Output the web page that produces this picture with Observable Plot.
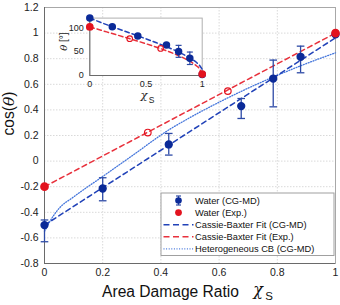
<!DOCTYPE html>
<html>
<head>
<meta charset="utf-8">
<script src="https://cdn.jsdelivr.net/npm/d3@7"></script>
<script src="https://cdn.jsdelivr.net/npm/@observablehq/plot@0.6"></script>
<style>
  html, body { margin: 0; padding: 0; background: #fff; }
  #wrap { position: relative; width: 340px; height: 305px; overflow: hidden; font-family: "Liberation Sans", Arial, sans-serif; }
  #wrap > svg, #wrap > div { position: absolute; }
</style>
</head>
<body>
<div id="wrap"></div>
<script>
// ---------- data ----------
const xTicks = [0, 0.2, 0.4, 0.6, 0.8, 1];
const xTickLabels = ["0", "0.2", "0.4", "0.6", "0.8", "1"];
const yTicks = [-0.8, -0.6, -0.4, -0.2, 0, 0.2, 0.4, 0.6, 0.8, 1, 1.2];
const yTickLabels = ["-0.8", "-0.6", "-0.4", "-0.2", "0", "0.2", "0.4", "0.6", "0.8", "1", "1.2"];

// Water (CG-MD) cos(theta) with error bars
const mdX   = [0, 0.2, 0.427, 0.676, 0.786, 0.88, 1];
const mdCos = [-0.5, -0.214, 0.13, 0.43, 0.645, 0.815, 0.99];
const mdLo  = [-0.63, -0.31, 0.047, 0.333, 0.424, 0.69, null];
const mdHi  = [-0.46, -0.13, 0.216, 0.489, 0.789, 0.898, null];

// Water (Exp.) filled and open points
const expX = [0, 1];
const expCos = [-0.2, 1.0];
const expOpenX = [0.355, 0.63];
const expOpenCos = [0.223, 0.547];

// Cassie-Baxter fits
const cbMdX = [0, 1];
const cbMdCos = [-0.5, 0.963];
const cbExpX = [0, 1];
const cbExpCos = [-0.2, 1.0];

// Heterogeneous CB (CG-MD)
const hetX   = [0, 0.02, 0.05, 0.1, 0.2, 0.3, 0.43, 0.5, 0.6, 0.7, 0.8, 0.9, 1];
const hetCos = [-0.55, -0.465, -0.37, -0.28, -0.12, 0.04, 0.248, 0.34, 0.46, 0.57, 0.67, 0.762, 0.846];

// Inset: contact angle theta (deg)
const inXTicks = [0, 0.5, 1];
const inXTickLabels = ["0", "0.5", "1"];
const inYTicks = [0, 50, 100];
const inMdX = [0, 0.2, 0.427, 0.682, 0.79, 0.89, 1];
const inMdTheta = [120, 102, 82.5, 64, 50, 36, 2];
const inErrX = [0.79, 0.89];
const inErrLo = [38, 23];
const inErrHi = [63, 49];
const inExpX = [0, 1];
const inExpTheta = [101.5, 3];
const inExpOpenX = [0.355, 0.63];
const inExpOpenTheta = [77, 56.5];
const inFitX = [0, 0.1, 0.2, 0.3, 0.4, 0.5, 0.6, 0.7, 0.8, 0.85, 0.9, 0.95, 0.98, 1];
const inFitMdTheta  = [120, 110.7, 102, 93.5, 85.1, 76.6, 67.8, 58.4, 47.9, 41.9, 35.2, 27.1, 20, 13];
const inFitExpTheta = [101.5, 94.6, 87.7, 80.8, 73.7, 66.4, 58.7, 50.2, 40.5, 34.9, 28.4, 19.9, 12.6, 0];

// legend
const legendLabels = ["Water (CG-MD)", "Water (Exp.)", "Cassie-Baxter Fit (CG-MD)", "Cassie-Baxter Fit (Exp.)", "Heterogeneous CB (CG-MD)"];

// ---------- styles ----------
const BLUE_PT = "#0b2a98";
const BLUE_ERR = "#2d4aa6";
const BLUE_DASH = "#2142b8";
const BLUE_DOT = "#4677dc";
const RED = "#e3131f";
const RED_DASH = "#e8313c";
const GRID = "#d9d9d9";
const FONT = "Liberation Sans, Arial, sans-serif";
const SERIF = "DejaVu Serif, Liberation Serif, serif";

const md = mdX.map((x, i) => ({x, y: mdCos[i], lo: mdLo[i], hi: mdHi[i]}));
const mdErr = md.filter(d => d.lo != null);
const cap = {draw(ctx, size) { const w = Math.sqrt(size / Math.PI); ctx.moveTo(-w, 0); ctx.lineTo(w, 0); }};

const main = Plot.plot({
  width: 340, height: 305,
  marginLeft: 44, marginRight: 5, marginTop: 7, marginBottom: 42,
  style: {fontFamily: FONT, fontSize: "10.5px", color: "#222", background: "transparent"},
  x: {domain: [0, 1], ticks: xTicks, tickFormat: (d, i) => xTickLabels[i], tickSize: 0, tickPadding: 5, label: null},
  y: {domain: [-0.8, 1.2], ticks: yTicks, tickFormat: (d, i) => yTickLabels[i], tickSize: 0, tickPadding: 6, label: null},
  marks: [
    Plot.frame({fill: "white", stroke: "none"}),
    Plot.ruleX(xTicks, {stroke: GRID, strokeDasharray: "1.5,1.5"}),
    Plot.ruleY(yTicks, {stroke: GRID, strokeDasharray: "1.5,1.5"}),
    Plot.frame({stroke: "#a8a8a8"}),
    Plot.ruleX([0], {stroke: "#6a6a6a"}),
    Plot.ruleY([-0.8], {stroke: "#6a6a6a"}),
    Plot.line(hetX.map((x, i) => ({x, y: hetCos[i]})), {x: "x", y: "y", stroke: BLUE_DOT, strokeWidth: 1.3, strokeDasharray: "1,1.6", curve: "monotone-x"}),
    Plot.line(cbMdX.map((x, i) => ({x, y: cbMdCos[i]})), {x: "x", y: "y", stroke: BLUE_DASH, strokeWidth: 1.5, strokeDasharray: "5,3.5"}),
    Plot.line(cbExpX.map((x, i) => ({x, y: cbExpCos[i]})), {x: "x", y: "y", stroke: RED_DASH, strokeWidth: 1.5, strokeDasharray: "5,3.5"}),
    Plot.ruleX(mdErr, {x: "x", y1: "lo", y2: "hi", stroke: BLUE_ERR, strokeWidth: 1.3}),
    Plot.dot(mdErr, {x: "x", y: "lo", symbol: cap, r: 3.8, stroke: BLUE_ERR, strokeWidth: 1.3}),
    Plot.dot(mdErr, {x: "x", y: "hi", symbol: cap, r: 3.8, stroke: BLUE_ERR, strokeWidth: 1.3}),
    Plot.dot(md, {x: "x", y: "y", r: 3.4, fill: BLUE_PT, stroke: BLUE_PT}),
    Plot.dot(expOpenX.map((x, i) => ({x, y: expOpenCos[i]})), {x: "x", y: "y", r: 3.3, stroke: RED, strokeWidth: 1.2, fill: "none"}),
    Plot.dot(expX.map((x, i) => ({x, y: expCos[i]})), {x: "x", y: "y", r: 3.6, fill: RED, stroke: RED}),
    Plot.text(["Area Damage Ratio"], {text: d => d, frameAnchor: "bottom", dx: -19.5, dy: 28, lineAnchor: "middle", fontSize: 15.6, fill: "#111"}),
    Plot.text(["χ"], {text: d => d, frameAnchor: "bottom", dx: 68, dy: 26, lineAnchor: "middle", fontSize: 16, fontFamily: SERIF, fontStyle: "italic", fill: "#111"}),
    Plot.text(["S"], {text: d => d, frameAnchor: "bottom", dx: 79, dy: 33, lineAnchor: "middle", fontSize: 11.5, fill: "#111"}),
    Plot.text(["cos(θ)"], {text: d => d, frameAnchor: "left", rotate: -90, dx: -36, fontSize: 15.6, fill: "#111"})
  ]
});
main.style.left = "0px"; main.style.top = "0px";
document.getElementById("wrap").appendChild(main);

// italic theta in y title
d3.select(main).selectAll("text").filter(function() { return this.textContent === "cos(θ)"; }).each(function() {
  const t = d3.select(this); t.text("");
  t.append("tspan").text("cos(");
  t.append("tspan").attr("font-family", SERIF).attr("font-style", "italic").text("θ");
  t.append("tspan").text(")");
});

// ---------- inset ----------
const IL = 50, IT = 10;
const inset = Plot.plot({
  width: 160, height: 95,
  marginLeft: 39.3, marginRight: 8.3, marginTop: 7.6, marginBottom: 30,
  style: {fontFamily: FONT, fontSize: "9px", color: "#222", background: "transparent"},
  x: {domain: [0, 1], ticks: inXTicks, tickFormat: (d, i) => inXTickLabels[i], tickSize: 0, tickPadding: 5, label: null},
  y: {domain: [0, 120], ticks: inYTicks, tickSize: 0, tickPadding: 6, label: null},
  marks: [
    Plot.frame({fill: "white", stroke: "#b0b0b0"}),
    Plot.ruleX([0], {stroke: "#6a6a6a"}),
    Plot.ruleY([0], {stroke: "#6a6a6a"}),
    Plot.line(inFitX.map((x, i) => ({x, y: inFitMdTheta[i]})), {x: "x", y: "y", stroke: BLUE_DASH, strokeWidth: 1.5, strokeDasharray: "4.5,3", curve: "monotone-x"}),
    Plot.line(inFitX.map((x, i) => ({x, y: inFitExpTheta[i]})), {x: "x", y: "y", stroke: RED_DASH, strokeWidth: 1.5, strokeDasharray: "4.5,3", curve: "monotone-x"}),
    Plot.ruleX(inErrX.map((x, i) => ({x, lo: inErrLo[i], hi: inErrHi[i]})), {x: "x", y1: "lo", y2: "hi", stroke: BLUE_ERR, strokeWidth: 1.2}),
    Plot.dot(inErrX.map((x, i) => ({x, y: inErrLo[i]})), {x: "x", y: "y", symbol: cap, r: 3, stroke: BLUE_ERR, strokeWidth: 1.2}),
    Plot.dot(inErrX.map((x, i) => ({x, y: inErrHi[i]})), {x: "x", y: "y", symbol: cap, r: 3, stroke: BLUE_ERR, strokeWidth: 1.2}),
    Plot.dot(inMdX.map((x, i) => ({x, y: inMdTheta[i]})), {x: "x", y: "y", r: 3, fill: BLUE_PT, stroke: BLUE_PT}),
    Plot.dot(inExpOpenX.map((x, i) => ({x, y: inExpOpenTheta[i]})), {x: "x", y: "y", r: 2.8, stroke: RED, strokeWidth: 1.1, fill: "none"}),
    Plot.dot(inExpX.map((x, i) => ({x, y: inExpTheta[i]})), {x: "x", y: "y", r: 3.1, fill: RED, stroke: RED}),
    Plot.text(["θ [°]"], {text: d => d, frameAnchor: "left", rotate: -90, dx: -26.5, dy: 4, fontSize: 10, fill: "#222"}),
    Plot.text(["χ"], {text: d => d, frameAnchor: "bottom", dx: -2, dy: 20, lineAnchor: "middle", fontSize: 11.5, fontFamily: SERIF, fontStyle: "italic", fill: "#222"}),
    Plot.text(["S"], {text: d => d, frameAnchor: "bottom", dx: 5.5, dy: 25, lineAnchor: "middle", fontSize: 8.5, fill: "#222"})
  ]
});
inset.style.left = IL + "px"; inset.style.top = IT + "px";
document.getElementById("wrap").appendChild(inset);
d3.select(inset).selectAll("text").filter(function() { return this.textContent === "θ [°]"; }).each(function() {
  const t = d3.select(this); t.text("");
  t.append("tspan").attr("font-family", SERIF).attr("font-style", "italic").text("θ");
  t.append("tspan").text(" [°]");
});

// ---------- legend ----------
const LX = 160.5, LY = 192.5, LW = 173, LH = 62.5;
const leg = d3.select("#wrap").append("svg")
  .attr("width", LW + 2).attr("height", LH + 2)
  .style("left", (LX - 1) + "px").style("top", (LY - 1) + "px");
leg.append("rect").attr("x", 1).attr("y", 1).attr("width", LW).attr("height", LH)
  .attr("fill", "white").attr("stroke", "#a0a0a0").attr("stroke-width", 1);
const rowY = i => 1 + 7.5 + i * 12.1;
const symX = 178 - LX + 1, lineX1 = 163 - LX + 1, lineX2 = 193 - LX + 1, textX = 194.5 - LX + 1;
// row 0: error-bar dot
leg.append("line").attr("x1", symX).attr("x2", symX).attr("y1", rowY(0) - 4.5).attr("y2", rowY(0) + 4.5).attr("stroke", BLUE_ERR).attr("stroke-width", 1.2);
leg.append("line").attr("x1", symX - 2.5).attr("x2", symX + 2.5).attr("y1", rowY(0) - 4.5).attr("y2", rowY(0) - 4.5).attr("stroke", BLUE_ERR).attr("stroke-width", 1.2);
leg.append("line").attr("x1", symX - 2.5).attr("x2", symX + 2.5).attr("y1", rowY(0) + 4.5).attr("y2", rowY(0) + 4.5).attr("stroke", BLUE_ERR).attr("stroke-width", 1.2);
leg.append("circle").attr("cx", symX).attr("cy", rowY(0)).attr("r", 3.3).attr("fill", BLUE_PT);
// row 1: red dot
leg.append("circle").attr("cx", symX).attr("cy", rowY(1)).attr("r", 3.4).attr("fill", RED);
// rows 2-4: lines
leg.append("line").attr("x1", lineX1).attr("x2", lineX2).attr("y1", rowY(2)).attr("y2", rowY(2)).attr("stroke", BLUE_DASH).attr("stroke-width", 1.5).attr("stroke-dasharray", "6,3.5");
leg.append("line").attr("x1", lineX1).attr("x2", lineX2).attr("y1", rowY(3)).attr("y2", rowY(3)).attr("stroke", RED_DASH).attr("stroke-width", 1.5).attr("stroke-dasharray", "6,3.5");
leg.append("line").attr("x1", lineX1).attr("x2", lineX2).attr("y1", rowY(4)).attr("y2", rowY(4)).attr("stroke", BLUE_DOT).attr("stroke-width", 1.2).attr("stroke-dasharray", "1,1.6");
legendLabels.forEach((s, i) => {
  leg.append("text").attr("x", textX).attr("y", rowY(i)).attr("dy", "0.35em")
    .attr("font-family", FONT).attr("font-size", "9.3px").attr("fill", "#111").text(s);
});
</script>
</body>
</html>
